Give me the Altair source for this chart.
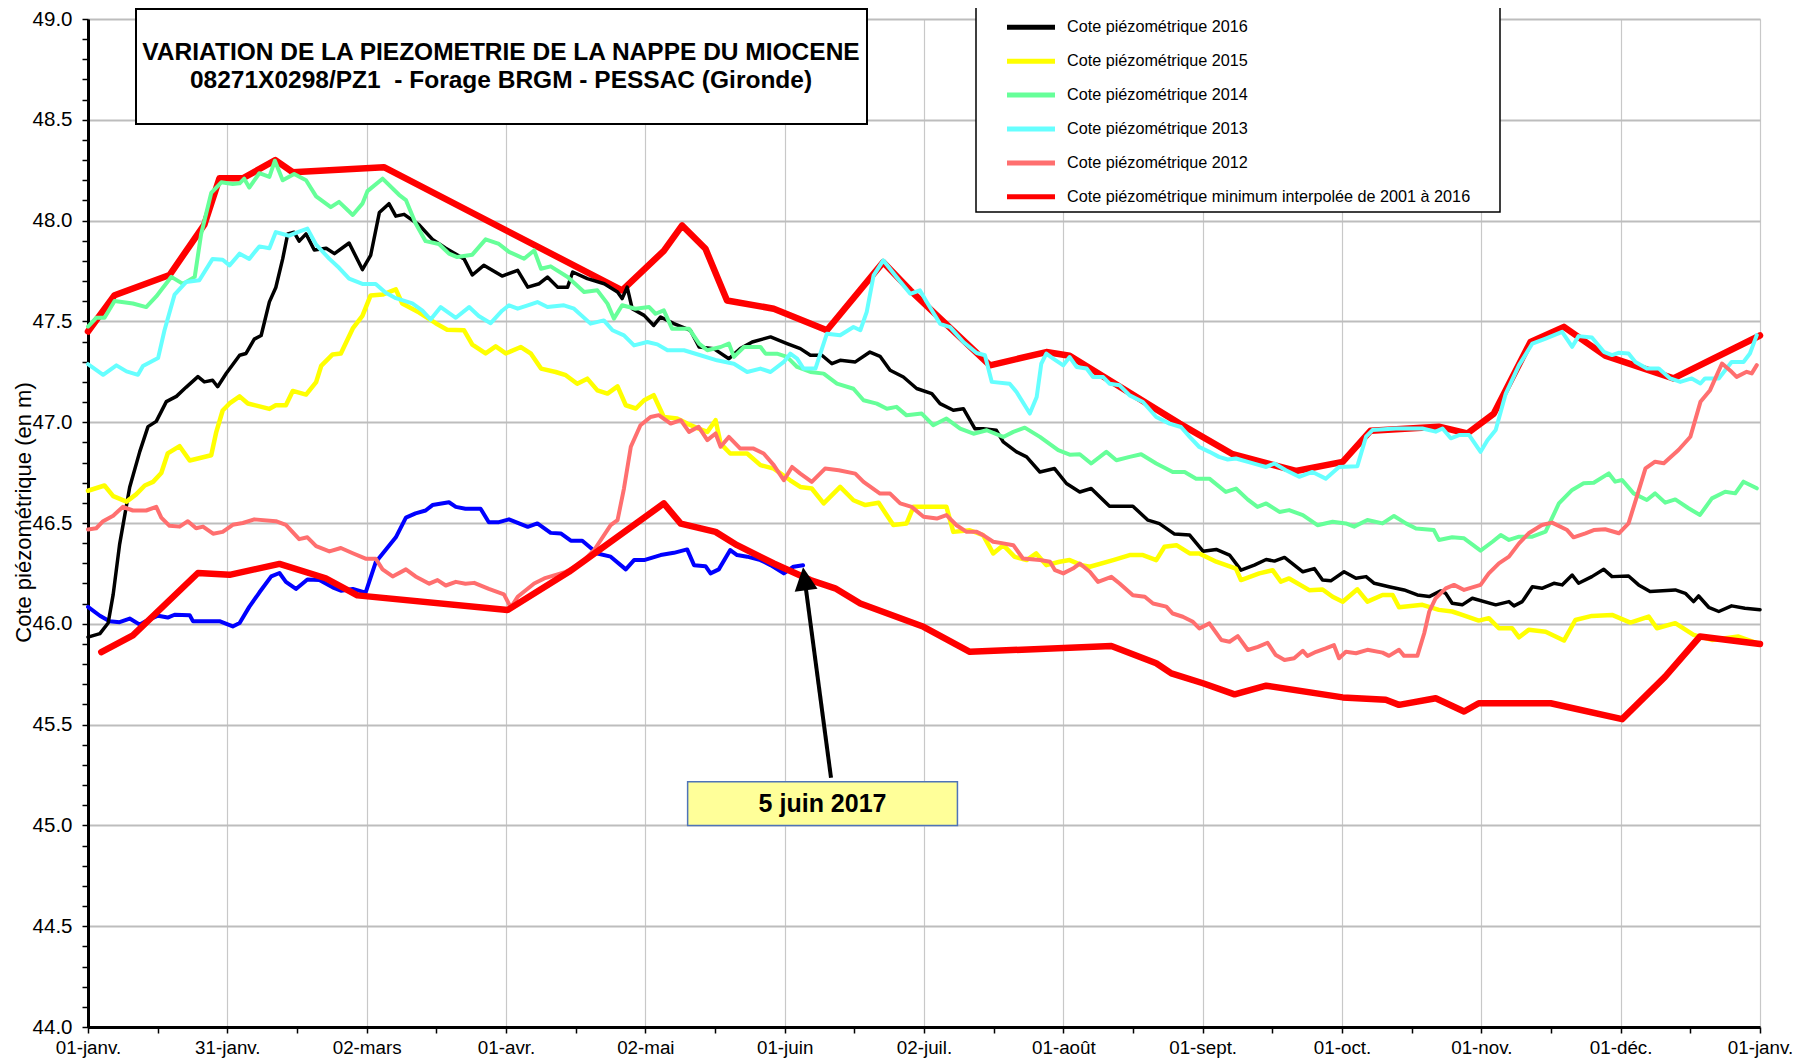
import json
import altair as alt
import pandas as pd

FONT = "Liberation Sans"

# ---------------- axes ----------------
X_LABELS = ["01-janv.", "31-janv.", "02-mars", "01-avr.", "02-mai", "01-juin",
            "02-juil.", "01-août", "01-sept.", "01-oct.", "01-nov.", "01-déc.", "01-janv."]
X_DOMAIN = [0, 365]
Y_DOMAIN = [44.0, 49.0]
Y_TITLE = "Cote piézométrique (en m)"

TITLE_LINES = ["VARIATION DE LA PIEZOMETRIE DE LA NAPPE DU MIOCENE",
               "08271X0298/PZ1\u00a0 - Forage BRGM - PESSAC (Gironde)"]

# ---------------- series (day of year, level in m) ----------------
NAMES = [
    "Cote piézométrique maximum interpolée de 2001 à 2016",
    "Cote piézométrique 2017",
    "Cote piézométrique 2016",
    "Cote piézométrique 2015",
    "Cote piézométrique 2014",
    "Cote piézométrique 2013",
    "Cote piézométrique 2012",
    "Cote piézométrique minimum interpolée de 2001 à 2016",
]
COLORS = ["#ff0000", "#0000ff", "#000000", "#ffff00", "#66ff99", "#66ffff", "#ff6f6f", "#ff0000"]
WIDTHS = [6.5, 4, 3.5, 4.5, 4, 4, 4, 6.5]

MAX_INTERP = [(0, 47.45), (5.8, 47.63), (17.8, 47.73), (25.4, 47.98), (28.7, 48.21), (33.8, 48.21),
              (40.9, 48.30), (44.7, 48.24), (64.6, 48.265), (116.6, 47.654), (125.7, 47.85),
              (129.7, 47.976), (134.8, 47.86), (139.5, 47.604), (149.7, 47.563), (161.3, 47.456),
              (173.6, 47.794), (179.5, 47.654), (196.9, 47.282), (209.2, 47.348), (214.3, 47.33),
              (238.3, 46.993), (249.9, 46.841), (263.7, 46.758), (273.9, 46.803), (280.0, 46.958),
              (294.9, 46.978), (301.1, 46.944), (306.9, 47.043), (314.9, 47.398), (322.2, 47.473),
              (331.2, 47.33), (346.1, 47.217), (365, 47.43)]

Y2017 = [(0, 46.084), (2.6, 46.04), (4.7, 46.013), (6.9, 46.008), (9.1, 46.026), (11.3, 45.996),
         (13.4, 46.022), (15.3, 46.04), (17.4, 46.031), (18.9, 46.045), (22.2, 46.043), (22.9, 46.013),
         (28.7, 46.013), (31.6, 45.987), (33.1, 46.004), (35.2, 46.084), (37.4, 46.155), (40.0, 46.235),
         (41.8, 46.252), (43.2, 46.208), (45.4, 46.173), (47.9, 46.22), (50.5, 46.217), (53.4, 46.181),
         (55.2, 46.164), (57.8, 46.173), (60.6, 46.155), (62.8, 46.305), (65.0, 46.367), (67.2, 46.429),
         (69.4, 46.527), (71.5, 46.548), (73.7, 46.562), (75.2, 46.589), (78.8, 46.603), (80.3, 46.58),
         (82.4, 46.571), (85.7, 46.571), (87.5, 46.504), (89.7, 46.504), (91.9, 46.518), (96.0, 46.481),
         (98.1, 46.498), (101.0, 46.451), (103.2, 46.448), (105.4, 46.412), (107.9, 46.412),
         (111.2, 46.349), (114.1, 46.333), (117.4, 46.27), (119.2, 46.316), (121.4, 46.316),
         (125.0, 46.341), (127.9, 46.352), (130.8, 46.369), (132.3, 46.291), (134.8, 46.286),
         (135.9, 46.25), (137.7, 46.27), (140.2, 46.366), (141.7, 46.341), (143.9, 46.333),
         (146.8, 46.316), (149.0, 46.291), (151.9, 46.25), (154.0, 46.283), (156.1, 46.29)]

Y2016 = [(0, 45.934), (2.6, 45.951), (4.4, 46.004), (5.5, 46.146), (6.9, 46.394), (9.1, 46.677),
         (11.3, 46.854), (13.1, 46.978), (14.9, 47.004), (17.1, 47.102), (19.3, 47.128), (21.4, 47.173),
         (24.0, 47.226), (25.4, 47.2), (27.2, 47.208), (28.3, 47.176), (30.2, 47.243), (33.1, 47.332),
         (34.5, 47.341), (36.3, 47.412), (37.8, 47.43), (39.6, 47.597), (41.0, 47.668), (42.5, 47.81),
         (43.6, 47.934), (45.0, 47.942), (46.1, 47.898), (47.6, 47.934), (49.4, 47.854), (52.0, 47.863),
         (53.8, 47.836), (57.0, 47.889), (59.9, 47.757), (61.7, 47.827), (63.6, 48.04), (65.7, 48.084),
         (67.2, 48.022), (69.0, 48.031), (72.3, 47.978), (75.2, 47.907), (78.1, 47.863), (82.1, 47.81),
         (83.9, 47.73), (86.4, 47.778), (90.4, 47.725), (93.8, 47.753), (96.0, 47.67), (98.5, 47.687),
         (100.3, 47.72), (102.5, 47.67), (104.7, 47.67), (105.8, 47.745), (109.0, 47.712),
         (112.7, 47.687), (115.6, 47.646), (116.6, 47.613), (117.7, 47.67), (118.8, 47.563),
         (121.4, 47.53), (123.5, 47.48), (125.0, 47.522), (127.9, 47.489), (131.5, 47.456),
         (133.4, 47.373), (136.6, 47.365), (139.9, 47.315), (142.4, 47.365), (145.0, 47.398),
         (149.0, 47.423), (152.6, 47.39), (155.5, 47.365), (157.7, 47.332), (160.2, 47.332),
         (162.4, 47.29), (164.2, 47.307), (167.5, 47.299), (170.7, 47.348), (172.9, 47.327),
         (175.1, 47.258), (178.0, 47.224), (180.9, 47.167), (184.2, 47.142), (186.0, 47.092),
         (188.9, 47.059), (191.1, 47.067), (193.6, 46.968), (195.4, 46.968), (198.3, 46.96),
         (199.8, 46.902), (202.7, 46.853), (204.9, 46.828), (207.8, 46.753), (211.0, 46.77),
         (213.6, 46.696), (216.5, 46.654), (219.0, 46.671), (223.0, 46.583), (228.1, 46.583),
         (231.4, 46.514), (233.9, 46.497), (237.2, 46.445), (240.5, 46.44), (243.4, 46.36),
         (246.3, 46.369), (249.2, 46.341), (251.7, 46.266), (254.6, 46.291), (257.2, 46.319),
         (259.0, 46.311), (261.2, 46.329), (265.2, 46.258), (267.7, 46.274), (269.5, 46.217),
         (271.3, 46.213), (274.2, 46.258), (276.8, 46.226), (279.0, 46.234), (280.8, 46.201),
         (284.0, 46.184), (287.3, 46.168), (290.2, 46.143), (292.8, 46.135), (295.3, 46.163),
         (296.4, 46.151), (297.8, 46.102), (300.0, 46.094), (302.2, 46.127), (307.3, 46.094),
         (310.2, 46.11), (311.3, 46.089), (313.1, 46.11), (315.3, 46.184), (317.4, 46.176),
         (320.0, 46.201), (321.8, 46.193), (324.0, 46.242), (325.4, 46.201), (328.3, 46.234),
         (330.9, 46.27), (332.7, 46.234), (336.3, 46.237), (338.5, 46.193), (341.0, 46.16),
         (346.5, 46.168), (348.7, 46.151), (350.5, 46.11), (351.6, 46.138), (353.8, 46.082),
         (356.0, 46.061), (358.8, 46.089), (361.7, 46.077), (365, 46.07)]

Y2015 = [(0, 46.66), (3.6, 46.686), (5.5, 46.633), (8.4, 46.606), (10.5, 46.642), (12.4, 46.686),
         (14.2, 46.704), (16, 46.748), (17.4, 46.845), (20, 46.881), (22.2, 46.81), (26.9, 46.836),
         (28, 46.951), (29.4, 47.058), (30.9, 47.093), (33.1, 47.128), (34.9, 47.093), (39.6, 47.066),
         (41, 47.084), (43.2, 47.084), (44.7, 47.155), (47.6, 47.137), (49.8, 47.199), (50.9, 47.279),
         (53.4, 47.336), (55.2, 47.341), (57.8, 47.465), (59.9, 47.527), (61.7, 47.629), (64.3, 47.633),
         (67.2, 47.659), (68.6, 47.589), (72.3, 47.544), (75.9, 47.491), (78.4, 47.459), (82.1, 47.456),
         (83.9, 47.385), (86.8, 47.341), (89, 47.376), (91.2, 47.341), (94.5, 47.373), (96.7, 47.34),
         (98.9, 47.266), (102.1, 47.249), (104.3, 47.233), (106.8, 47.191), (109, 47.216),
         (111.2, 47.158), (113.4, 47.142), (115.6, 47.178), (117.4, 47.084), (119.6, 47.068),
         (121.4, 47.109), (123.5, 47.134), (125.7, 47.026), (128.6, 47.018), (130.8, 46.993),
         (133.3, 46.968), (135.2, 46.952), (137, 47.01), (138.1, 46.894), (140.2, 46.845),
         (143.9, 46.845), (146.8, 46.787), (149.7, 46.77), (153.3, 46.712), (155.5, 46.679),
         (158, 46.671), (160.6, 46.597), (164.2, 46.679), (167.1, 46.613), (169.7, 46.589),
         (172.6, 46.6), (175.8, 46.49), (178.7, 46.498), (180.2, 46.58), (187.4, 46.58),
         (188.9, 46.456), (192.5, 46.464), (195.4, 46.44), (197.6, 46.349), (199.8, 46.39),
         (202.3, 46.332), (204.9, 46.316), (207, 46.349), (209.2, 46.291), (212.1, 46.308),
         (214.3, 46.316), (216.9, 46.291), (218.7, 46.283), (223.8, 46.316), (227.4, 46.341),
         (230.3, 46.341), (233.2, 46.316), (235, 46.382), (237.6, 46.39), (240.5, 46.349),
         (242.6, 46.349), (246.3, 46.308), (250.6, 46.274), (251.7, 46.217), (255.7, 46.25),
         (258.6, 46.266), (260.4, 46.209), (262.2, 46.225), (266.6, 46.167), (269.5, 46.17),
         (271.7, 46.134), (273.9, 46.109), (277.1, 46.171), (279.3, 46.11), (282.6, 46.143),
         (284.8, 46.143), (286.2, 46.082), (291.3, 46.094), (294.9, 46.069), (297.8, 46.061),
         (300, 46.044), (303.6, 46.016), (305.8, 46.028), (308, 45.978), (310.9, 45.978),
         (312.4, 45.933), (314.5, 45.97), (318.2, 45.961), (322.2, 45.917), (324.7, 46.019),
         (328.3, 46.039), (332.7, 46.044), (336.7, 46.006), (340.7, 46.036), (342.5, 45.978),
         (346.5, 46.003), (350.5, 45.945), (354.5, 45.92), (360.3, 45.937), (364.3, 45.904)]

Y2014 = [(0, 47.474), (1.8, 47.518), (3.6, 47.518), (5.8, 47.601), (9.8, 47.589), (12.7, 47.571),
         (14.9, 47.624), (18.2, 47.721), (20.7, 47.686), (23.3, 47.721), (24.7, 47.934), (26.9, 48.137),
         (29.1, 48.19), (31.6, 48.182), (33.1, 48.185), (34.1, 48.208), (35.2, 48.164), (37.4, 48.235),
         (39.6, 48.217), (40.8, 48.297), (42.5, 48.2), (45, 48.231), (47.6, 48.2), (49.8, 48.12),
         (53, 48.067), (54.8, 48.093), (57.8, 48.028), (59.9, 48.084), (61, 48.146), (64.3, 48.208),
         (67.9, 48.128), (69.4, 48.102), (71.5, 47.987), (73.7, 47.898), (76.6, 47.884), (78.8, 47.836),
         (80.6, 47.819), (83.9, 47.831), (86.8, 47.907), (89.7, 47.884), (91.9, 47.845), (95.2, 47.811),
         (97.4, 47.852), (98.9, 47.761), (101, 47.773), (104.7, 47.72), (108.3, 47.646), (111.2, 47.654),
         (113.4, 47.588), (114.8, 47.514), (116.6, 47.58), (119.5, 47.563), (122.5, 47.571),
         (123.9, 47.538), (125.7, 47.555), (127.5, 47.464), (131.2, 47.464), (133.4, 47.39),
         (135.2, 47.357), (138.1, 47.373), (139.9, 47.39), (141, 47.324), (143.2, 47.373),
         (146.8, 47.373), (147.9, 47.34), (150.4, 47.34), (152.6, 47.324), (154.8, 47.274),
         (157.7, 47.249), (160.6, 47.241), (163.5, 47.191), (167.1, 47.166), (169.3, 47.109),
         (172.2, 47.092), (174.4, 47.067), (176.5, 47.076), (178.7, 47.034), (182, 47.043),
         (184.5, 46.985), (187.4, 47.018), (190.4, 46.968), (193.3, 46.943), (196.2, 46.96),
         (199.8, 46.927), (202, 46.952), (204.5, 46.973), (207.8, 46.927), (211.8, 46.861),
         (214.3, 46.839), (216.5, 46.841), (219, 46.795), (222.3, 46.853), (224.5, 46.811),
         (227.4, 46.828), (229.9, 46.841), (233.2, 46.795), (236.8, 46.753), (239.4, 46.753),
         (241.9, 46.72), (244.8, 46.72), (248.4, 46.654), (250.6, 46.671), (253.2, 46.616),
         (255.3, 46.58), (257.2, 46.597), (260.1, 46.555), (262.2, 46.564), (265.2, 46.539),
         (268.4, 46.489), (271.7, 46.506), (274.6, 46.498), (276.4, 46.482), (279.3, 46.515),
         (282.6, 46.498), (285.1, 46.535), (287.7, 46.498), (289.9, 46.473), (293.8, 46.465),
         (294.9, 46.416), (297.8, 46.429), (300.4, 46.424), (304, 46.363), (306.6, 46.407),
         (308.4, 46.44), (310.2, 46.416), (312.4, 46.432), (315.3, 46.432), (318.2, 46.457),
         (321.1, 46.597), (324, 46.664), (326.5, 46.697), (328.7, 46.7), (332, 46.746),
         (333.4, 46.705), (334.9, 46.713), (337.4, 46.647), (340.3, 46.614), (342.1, 46.647),
         (344.3, 46.601), (346.5, 46.617), (349.4, 46.573), (351.9, 46.54), (354.5, 46.622),
         (357.4, 46.655), (359.6, 46.647), (361.4, 46.705), (364.3, 46.672)]

Y2013 = [(0, 47.288), (3.3, 47.235), (6.2, 47.282), (8.4, 47.252), (10.9, 47.235), (12, 47.279),
         (15.3, 47.318), (16.7, 47.456), (18.9, 47.633), (21.4, 47.695), (24.3, 47.704), (27.2, 47.81),
         (29.4, 47.806), (30.9, 47.778), (33.1, 47.836), (35.2, 47.81), (37.4, 47.872), (39.6, 47.863),
         (41, 47.943), (43.9, 47.925), (45.8, 47.943), (47.9, 47.96), (49.8, 47.881), (52.7, 47.81),
         (54.8, 47.766), (57, 47.712), (59.9, 47.686), (62.8, 47.686), (65, 47.642), (67.2, 47.615),
         (70.8, 47.589), (73, 47.553), (74.8, 47.509), (77, 47.571), (80.3, 47.518), (83.2, 47.571),
         (85.3, 47.527), (87.9, 47.491), (90.4, 47.553), (91.9, 47.58), (93.8, 47.563), (96, 47.58),
         (98.1, 47.596), (100.3, 47.571), (103.9, 47.58), (106.1, 47.563), (109.7, 47.489),
         (112.6, 47.505), (114.5, 47.456), (117, 47.431), (119.2, 47.381), (122.1, 47.398),
         (124.3, 47.386), (126.5, 47.357), (130.1, 47.357), (133.7, 47.332), (137.3, 47.307),
         (141, 47.29), (143.9, 47.249), (146.8, 47.266), (149, 47.249), (151.9, 47.299),
         (153.3, 47.34), (154.8, 47.315), (156.2, 47.266), (158.8, 47.266), (161.3, 47.439),
         (164.2, 47.431), (167.1, 47.472), (168.6, 47.456), (170, 47.547), (171.5, 47.728),
         (173.6, 47.803), (176.5, 47.72), (179.5, 47.637), (181.6, 47.654), (183.1, 47.596),
         (186, 47.488), (188.2, 47.472), (191.1, 47.398), (194, 47.343), (195.8, 47.332),
         (197.3, 47.2), (201.2, 47.191), (202.7, 47.15), (205.6, 47.043), (207.1, 47.125),
         (208.1, 47.29), (209.2, 47.34), (210.7, 47.315), (212.9, 47.282), (214.3, 47.323),
         (215.8, 47.274), (218, 47.266), (219.4, 47.224), (221.6, 47.224), (223, 47.191),
         (225.2, 47.183), (227.4, 47.133), (230.3, 47.1), (233.2, 47.026), (236.1, 46.993),
         (238.6, 46.976), (240.5, 46.927), (242.6, 46.877), (244.8, 46.853), (246.9, 46.828),
         (248.8, 46.815), (250.6, 46.82), (253.2, 46.803), (255.7, 46.787), (257.2, 46.778),
         (259, 46.795), (261.5, 46.762), (264.4, 46.729), (267.3, 46.753), (270.2, 46.72),
         (273.1, 46.778), (277.1, 46.782), (279, 46.928), (280.4, 46.961), (285.5, 46.969),
         (291.3, 46.969), (294.2, 46.953), (295.7, 46.969), (297.5, 46.92), (299.3, 46.936),
         (301.5, 46.936), (304, 46.853), (305.5, 46.911), (307.3, 46.961), (309.5, 47.142),
         (312.4, 47.283), (315.3, 47.39), (318.2, 47.415), (321.8, 47.448), (324, 47.374),
         (325.4, 47.427), (328.3, 47.42), (330.9, 47.349), (332.7, 47.333), (334.1, 47.344),
         (336.3, 47.341), (337.8, 47.299), (340.3, 47.266), (342.9, 47.266), (345.4, 47.217),
         (347.6, 47.2), (350.1, 47.217), (352, 47.192), (353, 47.217), (356, 47.217),
         (358.8, 47.299), (361.4, 47.299), (362.8, 47.341), (364.3, 47.432)]

Y2012 = [(0, 46.468), (1.8, 46.474), (3.3, 46.509), (5.5, 46.536), (7.6, 46.58), (9.8, 46.562),
         (12.7, 46.562), (14.9, 46.58), (16, 46.527), (17.8, 46.486), (20, 46.482), (21.8, 46.509),
         (23.6, 46.474), (25.1, 46.482), (27.3, 46.447), (29.4, 46.456), (31.6, 46.491), (33.8, 46.5),
         (36.3, 46.518), (41, 46.509), (43.2, 46.491), (46.1, 46.42), (47.9, 46.429), (49.8, 46.385),
         (52.7, 46.359), (55.2, 46.376), (57.8, 46.35), (60.6, 46.323), (62.8, 46.323), (64.3, 46.27),
         (66.5, 46.235), (69.4, 46.27), (71.5, 46.235), (74.5, 46.199), (76.3, 46.217), (78.1, 46.19),
         (80.3, 46.208), (82.4, 46.199), (84.3, 46.203), (87.5, 46.173), (90.8, 46.146), (92.3, 46.08),
         (93.8, 46.134), (97.4, 46.2), (99.6, 46.225), (104.3, 46.258), (107.6, 46.299),
         (110.5, 46.366), (114.1, 46.489), (115.6, 46.514), (117, 46.671), (118.5, 46.878),
         (120.6, 46.985), (122.8, 47.026), (124.6, 47.035), (127.2, 46.993), (129.4, 47.01),
         (131.2, 46.952), (133.3, 46.977), (135.2, 46.911), (137, 46.944), (138.1, 46.878),
         (139.9, 46.927), (142.4, 46.869), (145.3, 46.869), (147.5, 46.845), (149.7, 46.787),
         (151.9, 46.712), (153.7, 46.778), (155.5, 46.745), (158, 46.704), (160.9, 46.77),
         (163.9, 46.762), (167.5, 46.745), (169.3, 46.704), (172.9, 46.646), (175.1, 46.646),
         (177.3, 46.597), (179.8, 46.58), (182.4, 46.531), (185.3, 46.522), (187.4, 46.539),
         (189.6, 46.489), (191.8, 46.456), (194, 46.456), (195.4, 46.44), (197.6, 46.407),
         (199.8, 46.399), (202, 46.39), (204.1, 46.324), (207.8, 46.316), (210, 46.308),
         (211.1, 46.266), (212.9, 46.25), (215, 46.274), (216.5, 46.299), (218.7, 46.258),
         (220.5, 46.208), (223.4, 46.233), (225.2, 46.2), (228.1, 46.142), (230.7, 46.134),
         (232.5, 46.101), (235.4, 46.085), (236.8, 46.051), (239, 46.035), (241.2, 46.01),
         (242.6, 45.977), (244.8, 46.002), (247.4, 45.92), (249.2, 45.911), (251, 45.939),
         (253.2, 45.87), (255.4, 45.886), (257.5, 45.906), (259.3, 45.845), (261.2, 45.82),
         (263.3, 45.829), (265.2, 45.866), (266.2, 45.84), (268.1, 45.861), (270.2, 45.878),
         (272, 45.894), (273.1, 45.829), (274.6, 45.861), (276.8, 45.854), (279.3, 45.871),
         (282.6, 45.857), (284, 45.841), (286.2, 45.871), (287.3, 45.841), (290.2, 45.841),
         (291.7, 45.953), (292.8, 46.061), (294.2, 46.127), (296.4, 46.176), (298.2, 46.193),
         (300.4, 46.168), (304, 46.193), (305.8, 46.25), (308, 46.3), (310.2, 46.333),
         (312.4, 46.399), (314.5, 46.449), (317.4, 46.49), (319.6, 46.502), (322.9, 46.465),
         (324.3, 46.429), (326.9, 46.449), (328.7, 46.465), (331.2, 46.469), (334.2, 46.449),
         (336.3, 46.498), (338.1, 46.63), (340, 46.771), (342.1, 46.804), (344, 46.796),
         (347.2, 46.862), (349.8, 46.928), (352, 47.101), (354.1, 47.159), (356.7, 47.291),
         (358.8, 47.25), (359.9, 47.225), (362.1, 47.25), (363.2, 47.242), (364.3, 47.283)]

MIN_INTERP = [(2.9, 45.86), (9.8, 45.943), (24.0, 46.252), (30.9, 46.243), (41.8, 46.297),
              (51.9, 46.226), (58.8, 46.141), (91.6, 46.068), (105.0, 46.258), (125.7, 46.597),
              (129.4, 46.497), (137.0, 46.456), (141.7, 46.39), (149.7, 46.299), (157.7, 46.217),
              (163.1, 46.176), (168.6, 46.101), (182.4, 45.985), (192.5, 45.861), (223.4, 45.89),
              (233.2, 45.804), (236.5, 45.754), (243.4, 45.705), (250.3, 45.65), (257.2, 45.693),
              (273.9, 45.635), (283.3, 45.623), (286.2, 45.598), (294.2, 45.631), (300.4, 45.565),
              (303.6, 45.606), (319.3, 45.606), (334.9, 45.527), (344.3, 45.738), (351.9, 45.937),
              (365, 45.9)]

SERIES = [MAX_INTERP, Y2017, Y2016, Y2015, Y2014, Y2013, Y2012, MIN_INTERP]

# annotation "5 juin 2017" (data coordinates)
NOTE_TEXT = "5 juin 2017"
NOTE_BOX = {"day": 130.9, "day2": 189.8, "value": 45.0, "value2": 45.216}
ARROW_TAIL = (162.2, 45.236)
ARROW_TIP = (156.1, 46.28)

# ---------------- encodings ----------------
PERIOD = 365 / 12
x_ticks = [i * PERIOD / 2 for i in range(25)]
x_major = f"abs(datum.value / {PERIOD} - round(datum.value / {PERIOD})) < 0.01"
x_label_expr = f"({x_major}) ? {json.dumps(X_LABELS, ensure_ascii=False)}[round(datum.value / {PERIOD})] : ''"

y_ticks = [round(44 + i * 0.1, 1) for i in range(51)]
y_major = "abs(datum.value * 2 - round(datum.value * 2)) < 0.01"
y_label_expr = f"({y_major}) ? format(datum.value, '.1f') : ''"

x_axis = alt.Axis(
    values=x_ticks, labelExpr=x_label_expr, title=None,
    grid=True, gridColor="#c8c8c8", gridWidth=1.2,
    gridOpacity={"condition": {"test": x_major, "value": 1}, "value": 0},
    domainColor="black", domainWidth=3, tickColor="black", tickWidth=1.5, tickSize=6,
    labelFont=FONT, labelFontSize=18.8, labelColor="black", labelPadding=5,
    labelOverlap=False, labelFlush=False, labelAngle=0,
)
y_axis = alt.Axis(
    values=y_ticks, labelExpr=y_label_expr, title=Y_TITLE,
    grid=True, gridColor="#bdbdbd", gridWidth=2,
    gridOpacity={"condition": {"test": y_major, "value": 1}, "value": 0},
    domainColor="black", domainWidth=3, tickColor="black", tickWidth=1.5, tickSize=6,
    labelFont=FONT, labelFontSize=20.5, labelColor="black", labelPadding=10,
    labelOverlap=False, labelFlush=False,
    titleFont=FONT, titleFontSize=22, titleFontWeight="normal", titleColor="black", titlePadding=-3,
    titleY=493,
)

x_enc = alt.X("day:Q", scale=alt.Scale(domain=X_DOMAIN, nice=False, zero=False), axis=x_axis)
y_enc = alt.Y("value:Q", scale=alt.Scale(domain=Y_DOMAIN, nice=False, zero=False), axis=y_axis)

legend = alt.Legend(
    title=None, orient="none", legendX=925.5, legendY=-77, padding=0,
    symbolType="M-1.6,0H1.6", symbolSize=900, symbolStrokeWidth=5,
    labelFont=FONT, labelFontSize=16.2, labelColor="black", labelOffset=18.5,
    rowPadding=5.9, labelLimit=0, direction="vertical",
)
color_enc = alt.Color("serie:N", scale=alt.Scale(domain=NAMES, range=COLORS), legend=legend)

layers = []
for name, pairs, w in zip(NAMES, SERIES, WIDTHS):
    df = pd.DataFrame({"day": [p[0] for p in pairs], "value": [p[1] for p in pairs], "serie": name})
    layers.append(
        alt.Chart(df).mark_line(strokeWidth=w, strokeJoin="round", strokeCap="round")
        .encode(x=x_enc, y=y_enc, color=color_enc)
    )

# annotation box and text
note_df = pd.DataFrame([dict(NOTE_BOX, label=NOTE_TEXT)])
note_box = alt.Chart(note_df).mark_rect(fill="#ffff99", stroke="#4f74b8", strokeWidth=1.5).encode(
    x=x_enc, x2="day2:Q", y=y_enc, y2="value2:Q")
text_df = pd.DataFrame({"day": [(NOTE_BOX["day"] + NOTE_BOX["day2"]) / 2],
                        "value": [(NOTE_BOX["value"] + NOTE_BOX["value2"]) / 2],
                        "label": [NOTE_TEXT]})
note_text = alt.Chart(text_df).mark_text(font=FONT, fontSize=25, fontWeight="bold", color="black",
                                         align="center", baseline="middle").encode(x=x_enc, y=y_enc, text="label:N")

# arrow
frac = 0.94
arrow_end = (ARROW_TAIL[0] + frac * (ARROW_TIP[0] - ARROW_TAIL[0]),
             ARROW_TAIL[1] + frac * (ARROW_TIP[1] - ARROW_TAIL[1]))
arrow_df = pd.DataFrame({"day": [ARROW_TAIL[0]], "value": [ARROW_TAIL[1]],
                         "day2": [arrow_end[0]], "value2": [arrow_end[1]]})
arrow_line = alt.Chart(arrow_df).mark_rule(color="black", strokeWidth=4).encode(
    x=x_enc, y=y_enc, x2="day2:Q", y2="value2:Q")
head_df = pd.DataFrame({"day": [ARROW_TIP[0]], "value": [ARROW_TIP[1]]})
arrow_head = alt.Chart(head_df).mark_point(shape="M0,0L-0.5,1L0.5,1Z", size=2116, angle=352.4,
                                           filled=True, color="black", opacity=1, strokeWidth=0).encode(
    x=x_enc, y=y_enc)

# title box
one = pd.DataFrame({"k": [0]})
title_box = alt.Chart(one).mark_rect(fill="white", stroke="black", strokeWidth=2).encode(
    x=alt.value(48), x2=alt.value(779), y=alt.value(-10), y2=alt.value(105))
title_l1 = alt.Chart(one).mark_text(font=FONT, fontSize=24.5, fontWeight="bold", color="black",
                                    align="center", baseline="middle").encode(
    x=alt.value(413), y=alt.value(34), text=alt.value(TITLE_LINES[0]))
title_l2 = alt.Chart(one).mark_text(font=FONT, fontSize=24.5, fontWeight="bold", color="black",
                                    align="center", baseline="middle").encode(
    x=alt.value(413), y=alt.value(62), text=alt.value(TITLE_LINES[1]))

# legend box (frame behind the legend)
legend_box = alt.Chart(one).mark_rect(fill="white", stroke="black", strokeWidth=1.5).encode(
    x=alt.value(888), x2=alt.value(1412), y=alt.value(-40), y2=alt.value(193))

chart = alt.layer(
    *layers, note_box, note_text, arrow_line, arrow_head, title_box, title_l1, title_l2, legend_box
).properties(
    width=1672, height=1008,
    padding={"left": 80, "top": 11, "right": 34, "bottom": 42},
    autosize=alt.AutoSizeParams(type="none"),
).configure_view(
    fill="#e0e0e0", stroke="black", strokeWidth=2
).configure(background="white")

chart.save("out.html", embed_options={"renderer": "svg", "actions": False})
